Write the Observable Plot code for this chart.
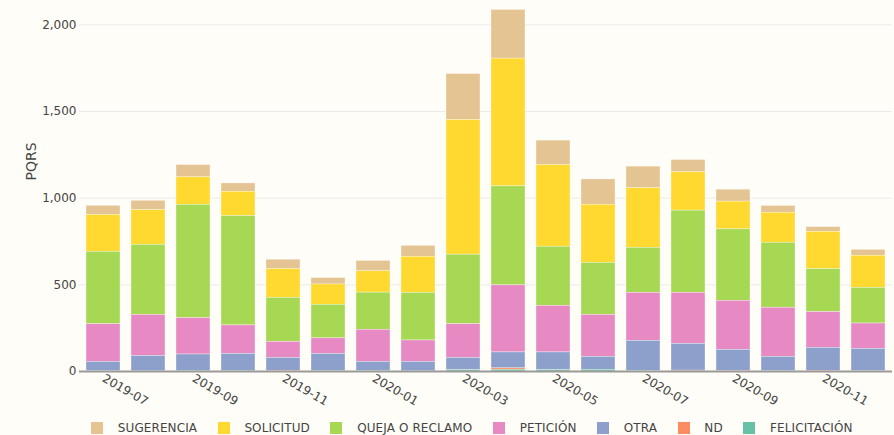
<!DOCTYPE html>
<html>
<head>
<meta charset="utf-8">
<script src="https://cdn.jsdelivr.net/npm/d3@7"></script>
<script src="https://cdn.jsdelivr.net/npm/@observablehq/plot@0.6"></script>
<style>
  html, body { margin: 0; padding: 0; background: #fffdf7; }
  #wrap { position: relative; width: 894px; height: 435px; overflow: hidden; font-family: "DejaVu Sans", Verdana, sans-serif; }
  #legend { position: absolute; top: 421px; left: 91px; display: flex; align-items: center; height: 14px; font-size: 12px; letter-spacing: 0.1px; color: #444; white-space: nowrap; }
  .item { display: flex; align-items: center; margin-right: 20.5px; }
  .sw { width: 12px; height: 12px; margin-right: 14.8px; }
</style>
</head>
<body>
<div id="wrap"><div id="chart"></div><div id="legend"></div></div>
<script>
const months = ["2019-07","2019-08","2019-09","2019-10","2019-11","2019-12","2020-01","2020-02","2020-03","2020-04","2020-05","2020-06","2020-07","2020-08","2020-09","2020-10","2020-11","2020-12"];
const tickMonths = ["2019-07","2019-09","2019-11","2020-01","2020-03","2020-05","2020-07","2020-09","2020-11"];
const yTicks = [0, 500, 1000, 1500, 2000];
const categories = ["SUGERENCIA","SOLICITUD","QUEJA O RECLAMO","PETICIÓN","OTRA","ND","FELICITACIÓN"];

const sugerencia   = [53,54,71,48,54,37,60,63,265,281,141,146,125,71,69,39,27,34];
const solicitud    = [212,200,158,140,166,117,123,208,777,737,471,335,343,221,160,173,215,185];
const queja        = [418,404,654,631,254,194,214,275,401,571,341,300,260,474,412,375,248,206];
const peticion     = [217,237,210,164,92,89,185,123,194,387,269,242,277,294,283,283,206,146];
const otra         = [54,89,94,98,75,99,53,55,71,92,102,75,174,155,122,83,133,129];
const nd           = [0,0,0,0,4,0,0,0,0,8,0,0,0,5,3,0,4,0];
const felicitacion = [2,1,4,4,0,3,3,1,8,10,8,10,3,0,0,2,0,2];

const palette = ["#e5c494","#ffd92f","#a6d854","#e78ac3","#8da0cb","#fc8d62","#66c2a5"];

const series = [sugerencia, solicitud, queja, peticion, otra, nd, felicitacion];
const table = [];
categories.forEach((c, i) => months.forEach((m, j) => table.push({month: m, cat: c, value: series[i][j]})));
const stackOrder = categories.slice().reverse();
const fmt = d3.format(",d");

const chart = Plot.plot({
  width: 894,
  height: 410,
  marginLeft: 79,
  marginRight: 2,
  marginTop: 7,
  marginBottom: 39,
  style: {background: "transparent", fontFamily: "'DejaVu Sans', Verdana, sans-serif", fontSize: "12px", color: "#444"},
  x: {domain: months, paddingInner: 0.244, paddingOuter: 0.07, label: null},
  y: {domain: [0, 2100], label: null},
  color: {domain: categories, range: palette},
  marks: [
    Plot.gridY(yTicks.slice(1), {stroke: "#ebebeb", strokeOpacity: 1, strokeWidth: 1}),
    Plot.barY(table, {x: "month", y: "value", fill: "cat", order: stackOrder, stroke: "#fffdf7", strokeWidth: 0.5, strokeOpacity: 0.7}),
    Plot.ruleY([0], {stroke: "#9a9a9a", strokeWidth: 2}),
    Plot.axisY({ticks: yTicks, tickFormat: fmt, tickSize: 0, tickPadding: 3, label: null, fill: "#444"}),
    Plot.axisX({ticks: tickMonths, tickRotate: 30, tickSize: 0, tickPadding: 6, label: null, fill: "#444"}),
    Plot.text(["PQRS"], {text: d => d, frameAnchor: "left", rotate: -90, dx: -48, dy: -9, fontSize: 14, fill: "#444"})
  ]
});
document.getElementById("chart").appendChild(chart);

const legend = document.getElementById("legend");
categories.forEach((c, i) => {
  const item = document.createElement("div");
  item.className = "item";
  const sw = document.createElement("div");
  sw.className = "sw";
  sw.style.background = palette[i];
  const t = document.createElement("span");
  t.textContent = c;
  item.appendChild(sw);
  item.appendChild(t);
  legend.appendChild(item);
});
</script>
</body>
</html>
